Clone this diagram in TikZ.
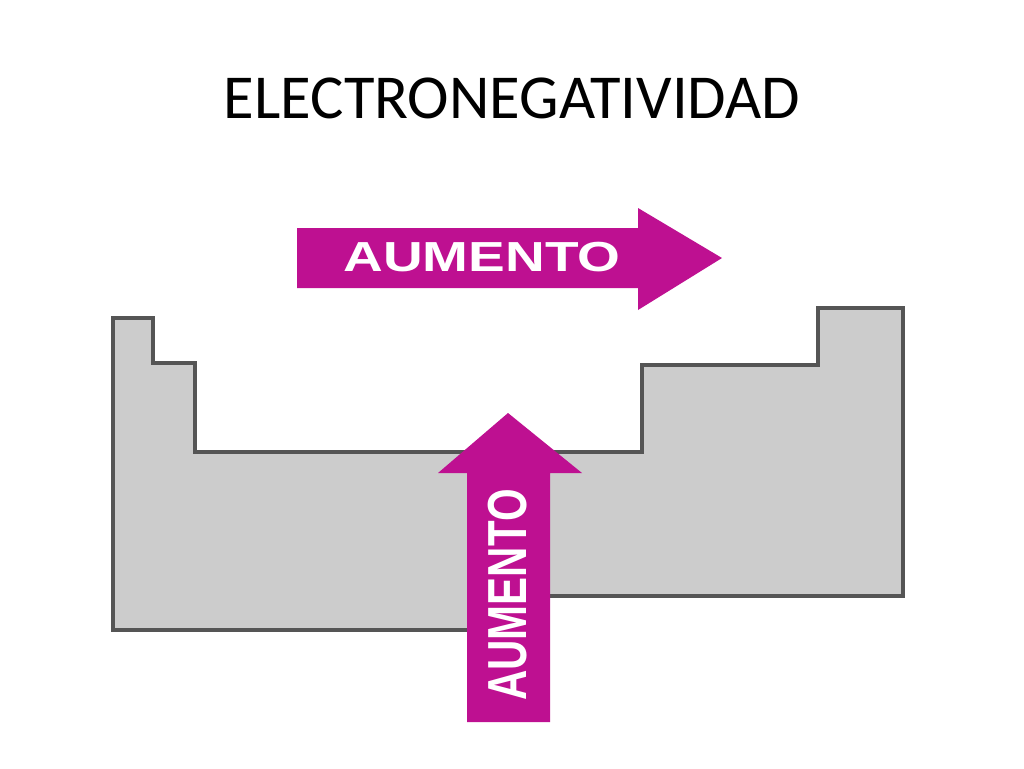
\documentclass[tikz,border=0pt]{standalone}
\usepackage{fontspec}
\setmainfont{Carlito}
\newfontfamily\arrowfont{Liberation Sans}
\definecolor{tablegray}{RGB}{204,204,204}
\definecolor{edgegray}{RGB}{85,85,85}
\definecolor{aumentomag}{RGB}{190,16,145}
\tikzset{
  tabla/.style={fill=tablegray,draw=edgegray,line width=2.3pt,line join=miter},
  flecha/.style={fill=aumentomag},
  rotulo/.style={text=white,font=\arrowfont\fontsize{23.9}{24}\selectfont\bfseries,inner sep=0pt}
}
\begin{document}
\begin{tikzpicture}[x=0.02cm,y=-0.02cm]
          \useasboundingbox (0,0) rectangle (1024,768);
          \node[font=\fontsize{35.6}{40}\selectfont,anchor=base] (titulo) at (512,118) {ELECTRONEGATIVIDAD};

          \draw[tabla] (113,318) -- (153,318) -- (153,363) -- (195,363) -- (195,452)
                -- (642,452) -- (642,365) -- (818,365) -- (818,308) -- (903,308)
                -- (903,596) -- (508,596) -- (508,630) -- (113,630) -- cycle;

          \fill[flecha] (297,228) -- (638,228) -- (638,208) -- (722,258) -- (638,310)
                -- (638,288) -- (297,288) -- cycle;
          \fill[flecha] (467,722) -- (467,473) -- (438,473) -- (508,413) -- (582,473)
                -- (550,473) -- (550,722) -- cycle;

          \node[rotulo,xscale=1.31] (horizontal) at (482,257) {AUMENTO};
          \node[rotulo,xscale=1.31,rotate=90] (vertical) at (508,595) {AUMENTO};
\end{tikzpicture}
\end{document}
